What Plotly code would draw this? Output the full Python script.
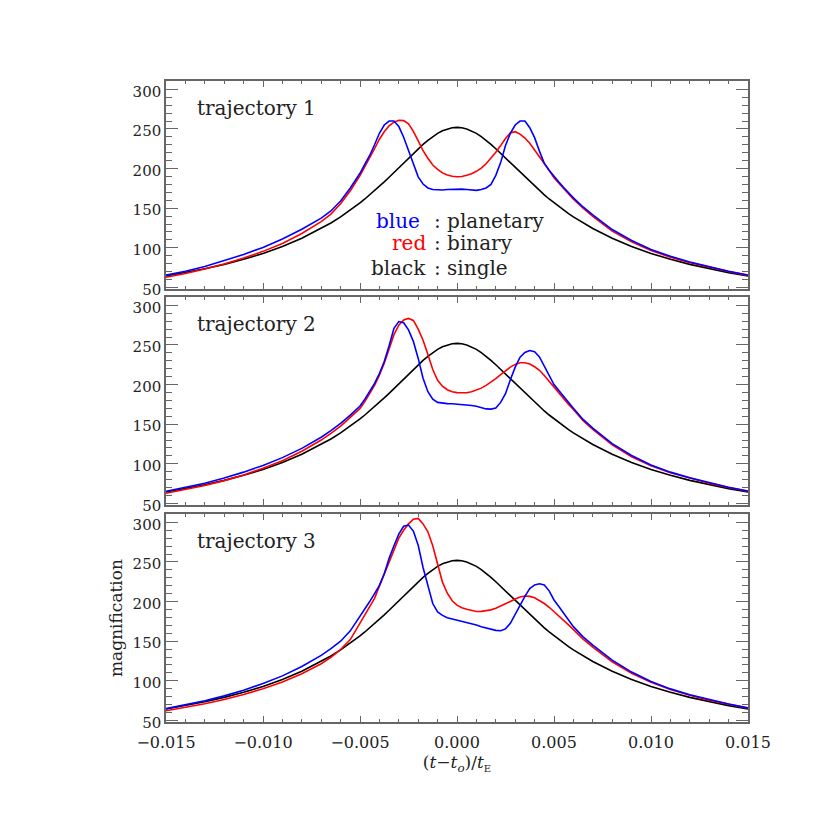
import plotly.graph_objects as go

# shared abscissa (t - t0) / tE
x_vals = [-0.015, -0.014, -0.013, -0.012, -0.011, -0.010, -0.009, -0.008, -0.007, -0.0065, -0.006, -0.0055,
          -0.005, -0.00475, -0.0045, -0.00425, -0.004, -0.00375, -0.0035, -0.00325, -0.003, -0.00275,
          -0.0025, -0.00225, -0.002, -0.00175, -0.0015, -0.00125, -0.001, -0.00075, -0.0005, -0.00025,
          0.0, 0.00025, 0.0005, 0.00075, 0.001, 0.00125, 0.0015, 0.00175, 0.002, 0.00225, 0.0025, 0.00275,
          0.003, 0.00325, 0.0035, 0.00375, 0.004, 0.00425, 0.0045, 0.00475, 0.005, 0.00525, 0.0055, 0.00575, 0.006,
          0.0065, 0.007, 0.008, 0.009, 0.010, 0.011, 0.012, 0.013, 0.014, 0.015]

# single lens (same in all panels)
single = [64.4, 68.7, 73.6, 79.1, 85.5, 92.9, 101.7, 112.0, 124.3, 131.3, 139.0, 147.4,
          156.7, 161.6, 166.7, 172.0, 177.5, 183.2, 189.0, 195.0, 201.0, 207.1, 213.2, 219.2, 225.0, 230.6,
          235.7, 240.4, 244.4, 247.6, 250.0, 251.5,
          252.0, 251.5, 250.0, 247.6, 244.4, 240.4, 235.7, 230.6, 225.0, 219.2, 213.2, 207.1, 201.0, 195.0,
          189.0, 183.2, 177.5, 172.0, 166.7, 161.6, 156.7, 152.0, 147.4, 143.1, 139.0,
          131.3, 124.3, 112.0, 101.7, 92.9, 85.5, 79.1, 73.6, 68.7, 64.4]

# trajectory 1
planet_1 = [65.5, 70.5, 76.5, 83.5, 91.5, 100.5, 111.0, 123.5, 137.5, 146.5, 159.0, 175.5,
            194.0, 205.5, 216.5, 230.0, 244.5, 255.0, 260.0, 260.0, 253.0, 239.5, 223.0, 205.0, 189.5, 180.5,
            175.5, 173.5, 172.8, 173.0, 173.5, 173.8,
            174.0, 174.0, 173.6, 173.0, 172.5, 173.5, 175.5, 180.0, 191.5, 207.5, 229.0, 244.5, 255.0, 260.0,
            260.0, 251.5, 239.0, 222.0, 206.5, 198.0, 190.0, 183.0, 176.0, 169.5, 163.0,
            151.5, 141.5, 123.0, 109.2, 97.9, 89.3, 82.1, 75.9, 70.5, 65.6]
binary_1 = [62.8, 67.5, 73.2, 79.6, 87.0, 95.5, 105.5, 118.0, 133.0, 142.5, 155.5, 172.0,
            191.0, 202.0, 213.5, 225.0, 237.0, 246.5, 254.0, 258.5, 261.0, 260.5, 256.5, 247.0, 235.0, 222.5,
            213.0, 204.5, 199.0, 194.5, 191.8, 190.2,
            189.6, 190.0, 191.5, 193.5, 196.5, 200.5, 206.0, 213.0, 220.5, 229.0, 238.0, 245.0, 246.5, 243.5,
            238.5, 232.0, 224.0, 215.5, 206.5, 197.5, 188.5, 181.5, 174.5, 168.0, 161.5,
            150.0, 139.5, 121.0, 107.5, 96.5, 88.2, 81.3, 75.3, 70.0, 65.2]

# trajectory 2
planet_2 = [65.3, 70.0, 75.5, 82.0, 89.5, 98.0, 107.8, 119.5, 133.5, 141.8, 151.0, 161.5,
            173.0, 181.5, 191.0, 201.5, 214.0, 229.0, 249.0, 271.0, 279.5, 278.0, 269.0, 254.5, 233.0, 208.0,
            191.0, 181.5, 177.5, 176.5, 176.0, 175.8,
            175.4, 175.0, 174.3, 173.5, 172.6, 171.0, 169.3, 169.0, 170.5, 177.5, 188.5, 206.0, 222.0, 234.5,
            240.5, 243.0, 241.5, 235.0, 223.5, 210.0, 200.0, 192.5, 184.5, 177.0, 170.0,
            156.0, 145.0, 125.5, 110.5, 98.5, 89.5, 82.3, 76.0, 70.5, 65.6]
binary_2 = [62.8, 67.3, 72.6, 78.8, 86.0, 94.3, 104.0, 115.8, 130.0, 138.3, 147.5, 158.5,
            170.0, 178.5, 188.0, 199.0, 212.0, 227.0, 245.0, 263.0, 275.0, 281.5, 283.5, 281.0, 270.0, 256.0,
            238.0, 219.0, 205.5, 198.0, 193.5, 191.0,
            189.8, 189.3, 189.6, 191.0, 193.0, 195.5, 199.0, 203.0, 207.5, 212.5, 217.5, 222.0, 225.5, 227.5,
            227.5, 226.0, 222.5, 218.0, 211.5, 204.0, 196.5, 189.0, 182.0, 175.0, 168.5,
            154.5, 143.5, 124.0, 109.0, 97.5, 88.6, 81.6, 75.5, 70.1, 65.3]

# trajectory 3
planet_3 = [64.8, 69.5, 74.8, 81.0, 88.2, 96.5, 106.2, 118.0, 132.0, 140.5, 150.0, 163.0,
            181.0, 190.5, 200.0, 210.0, 220.5, 235.0, 254.5, 270.5, 285.0, 295.0, 296.5, 289.0, 271.0, 243.0,
            218.5, 197.5, 187.0, 182.5, 179.5, 178.0,
            176.8, 175.3, 174.0, 172.5, 170.5, 168.3, 166.5, 165.0, 163.6, 163.2, 165.5, 172.5, 184.5, 196.5,
            206.5, 216.5, 221.0, 222.5, 221.0, 213.5, 202.0, 193.8, 185.3, 176.8, 168.3,
            155.5, 145.0, 126.0, 111.0, 99.0, 89.8, 82.5, 76.2, 70.7, 65.8]
binary_3 = [62.2, 66.3, 71.0, 76.5, 82.7, 90.0, 98.5, 109.0, 121.5, 129.5, 139.5, 152.0,
            172.5, 182.0, 192.5, 204.0, 219.5, 235.0, 251.0, 265.7, 280.0, 290.0, 298.0, 304.0, 305.0, 298.0,
            288.0, 270.5, 246.0, 224.5, 210.5, 201.0,
            195.5, 192.3, 190.3, 188.8, 187.5, 187.6, 188.4, 189.5, 191.5, 194.0, 196.8, 200.0, 203.3, 205.8,
            207.0, 206.5, 204.8, 201.5, 197.5, 192.8, 187.5, 182.0, 176.5, 170.5, 164.5,
            152.5, 142.5, 124.0, 109.5, 98.0, 89.0, 81.8, 75.6, 70.2, 65.3]

panels = [
    ("trajectory 1", planet_1, binary_1),
    ("trajectory 2", planet_2, binary_2),
    ("trajectory 3", planet_3, binary_3),
]
domains = [[0.6755, 1.0], [0.3385, 0.663], [0.0, 0.3245]]

FONT = "DejaVu Serif"
AXIS_COLOR = "#666666"
TEXT_COLOR = "#222222"

fig = go.Figure()
annotations = []

for i, (label, planet, binary) in enumerate(panels):
    n = "" if i == 0 else str(i + 1)
    xa, ya = "x" + n, "y" + n
    fig.add_trace(go.Scatter(x=x_vals, y=single, mode="lines", xaxis=xa, yaxis=ya,
                             line=dict(color="black", width=1.6), showlegend=False))
    fig.add_trace(go.Scatter(x=x_vals, y=binary, mode="lines", xaxis=xa, yaxis=ya,
                             line=dict(color="#ff0000", width=1.6), showlegend=False))
    fig.add_trace(go.Scatter(x=x_vals, y=planet, mode="lines", xaxis=xa, yaxis=ya,
                             line=dict(color="#0000ff", width=1.6), showlegend=False))

    annotations.append(dict(text=label, x=-0.0135, y=276.4, xref=xa, yref=ya,
                            xanchor="left", yanchor="middle", showarrow=False,
                            font=dict(family=FONT, size=20, color=TEXT_COLOR)))

    last = i == 2
    xaxis = dict(
        domain=[0, 1], anchor=ya, range=[-0.015, 0.015],
        dtick=0.005, tick0=0, tickformat=".3f",
        showticklabels=last, ticks="inside", ticklen=6, tickcolor=AXIS_COLOR,
        minor=dict(dtick=0.001, ticks="inside", ticklen=3, tickcolor=AXIS_COLOR),
        showline=True, linecolor=AXIS_COLOR, linewidth=1.5, mirror="ticks",
        showgrid=False, zeroline=False,
        tickfont=dict(family=FONT, size=16, color=TEXT_COLOR),
    )
    yaxis = dict(
        domain=domains[i], anchor=xa, range=[48, 310.5],
        dtick=50, tick0=0, ticklabelshift=2,
        ticks="inside", ticklen=12, tickcolor=AXIS_COLOR,
        minor=dict(dtick=10, ticks="inside", ticklen=6, tickcolor=AXIS_COLOR),
        showline=True, linecolor=AXIS_COLOR, linewidth=1.5, mirror="ticks",
        showgrid=False, zeroline=False,
        tickfont=dict(family=FONT, size=15, color=TEXT_COLOR),
    )
    if last:
        xaxis["ticklabelstandoff"] = 5
        xaxis["title"] = dict(
            text="(<i>t</i>\u2212<i>t</i><sub><i>o</i></sub>)/<i>t</i>"
                 "<sub><span style='font-size:10px'>E</span></sub>",
            font=dict(family=FONT, size=17, color=TEXT_COLOR), standoff=0)
        yaxis["title"] = dict(text="magnification",
                              font=dict(family=FONT, size=17, color=TEXT_COLOR), standoff=6)
    fig.update_layout({"xaxis" + n: xaxis, "yaxis" + n: yaxis})

# colour key in the first panel
key_font = dict(family=FONT, size=20)
key = [
    dict(text="blue", x=-0.00428, y=133.8, xanchor="left",
         font=dict(key_font, color="#0000ff")),
    dict(text="red", x=-0.0015, y=106.0, xanchor="right",
         font=dict(key_font, color="#ff0000")),
    dict(text="black", x=-0.0015, y=74.5, xanchor="right",
         font=dict(key_font, color=TEXT_COLOR)),
    dict(text=": planetary", x=-0.00131, y=133.8, xanchor="left",
         font=dict(key_font, color=TEXT_COLOR)),
    dict(text=": binary", x=-0.00131, y=106.0, xanchor="left",
         font=dict(key_font, color=TEXT_COLOR)),
    dict(text=": single", x=-0.00131, y=74.5, xanchor="left",
         font=dict(key_font, color=TEXT_COLOR)),
]
for a in key:
    a.update(xref="x", yref="y", yanchor="middle", showarrow=False)
annotations += key

# page body adds an 8px offset, so margins are trimmed by that much
fig.update_layout(
    annotations=annotations,
    width=830, height=830,
    margin=dict(l=158, r=90, t=73, b=116),
    paper_bgcolor="white", plot_bgcolor="white",
    font=dict(family=FONT),
)

fig.write_html("out.html")
